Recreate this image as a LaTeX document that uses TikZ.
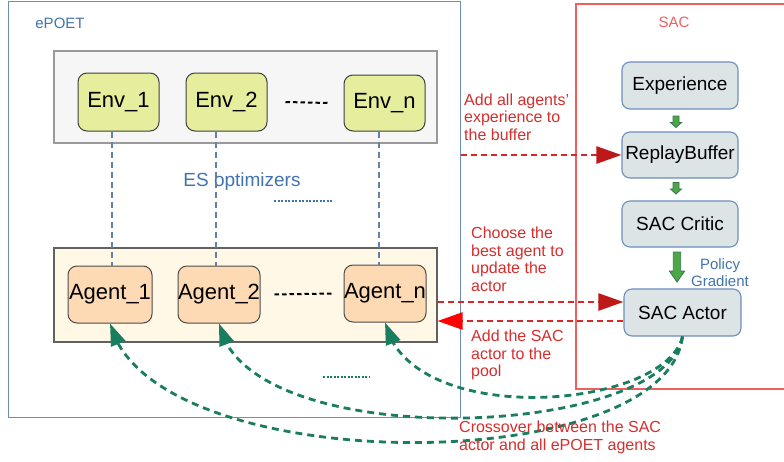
\documentclass[tikz,border=0pt]{standalone}
\usepackage{fontspec}
\setmainfont{Liberation Sans}
\usetikzlibrary{arrows.meta,bending}

\definecolor{epoetblue}{RGB}{108,142,191}
\definecolor{labelblue}{RGB}{65,115,175}
\definecolor{sacred}{RGB}{240,95,95}
\definecolor{textred}{RGB}{214,45,45}
\definecolor{linered}{RGB}{215,40,40}
\definecolor{darkred}{RGB}{190,25,25}
\definecolor{envfill}{RGB}{230,238,158}
\definecolor{agentfill}{RGB}{253,218,180}
\definecolor{poolfill}{RGB}{255,248,230}
\definecolor{envpoolfill}{RGB}{245,246,245}
\definecolor{sacfill}{RGB}{221,228,230}
\definecolor{crossgreen}{RGB}{25,125,95}
\definecolor{flowgreen}{RGB}{76,168,68}
\definecolor{flowedge}{RGB}{55,115,85}

\tikzset{
  frame/.style={draw=epoetblue, line width=1pt, inner sep=0pt},
  pool/.style={draw=#1, line width=1.2pt, inner sep=0pt},
  envbox/.style={draw=black!75, fill=envfill, rounded corners=9pt, line width=1pt,
    minimum height=58pt, inner sep=0pt, font=\fontsize{22}{24}\selectfont},
  agentbox/.style={draw=black!70, fill=agentfill, rounded corners=9pt, line width=1pt,
    minimum height=57pt, inner sep=0pt, font=\fontsize{22}{24}\selectfont},
  sacbox/.style={draw=epoetblue, fill=sacfill, rounded corners=8pt, line width=1.1pt,
    minimum width=116pt, minimum height=46pt, inner sep=0pt, font=\fontsize{19}{22}\selectfont},
  optline/.style={draw=epoetblue!90!black, line width=1.4pt, dash pattern=on 6pt off 4pt},
  gap/.style={draw=black, line width=2pt, dash pattern=on 4.5pt off 3pt},
  redtext/.style={font=\fontsize{16}{17.5}\selectfont, text=textred, align=left, inner sep=0pt, anchor=north west},
  bluetext/.style={text=labelblue, inner sep=0pt},
  redflow/.style={draw=linered, line width=2.5pt, dash pattern=on 6pt off 4pt,
    -{Triangle[length=25pt,width=17pt,color=#1]}},
  crossflow/.style={draw=crossgreen, line width=2.8pt, dash pattern=on 7pt off 5pt,
    -{Triangle[length=22pt,width=15pt]}},
  blockarrow/.style={fill=flowgreen, draw=flowedge, line width=0.8pt, line join=miter},
}

\begin{document}
\begin{tikzpicture}[x=1pt,y=-1pt]
\useasboundingbox (0,0) rectangle (784,461);

% outer frames
\node[frame, minimum width=452pt, minimum height=416pt] (epoet) at (234,209) {};
\draw[draw=sacred, line width=1.3pt] (790,4) -- (576,4) -- (576,389) -- (790,389);

% environment and agent pools
\node[pool=black!40, fill=envpoolfill, minimum width=383pt, minimum height=92pt] (envpool) at (245.5,97) {};
\node[pool=black!62, fill=poolfill, minimum width=383pt, minimum height=94pt] (agentpool) at (245.5,295) {};

% labels
\node[bluetext, font=\fontsize{15}{18}\selectfont] (epoetlabel) at (60,23) {ePOET};
\node[bluetext, font=\fontsize{19}{22}\selectfont] (eslabel) at (242,182) {ES optimizers};
\node[text=sacred, inner sep=0pt, font=\fontsize{15}{18}\selectfont] (saclabel) at (674,22) {SAC};

% environments
\node[envbox, minimum width=81pt] (env1) at (118.5,102) {Env\_1};
\node[envbox, minimum width=81pt] (env2) at (226.5,102) {Env\_2};
\node[envbox, minimum width=81pt, minimum height=56pt] (envn) at (384.5,103) {Env\_n};

% agents
\node[agentbox, minimum width=84pt] (agent1) at (110,294.5) {Agent\_1};
\node[agentbox, minimum width=82pt] (agent2) at (219,294.5) {Agent\_2};
\node[agentbox, minimum width=82pt] (agentn) at (385,293.5) {Agent\_n};

% ES optimizer links between environments and agents
\draw[optline] ([xshift=-6.5pt]env1.south) -- ([xshift=-6.5pt]env1.south |- agent1.north);
\draw[optline] ([xshift=-10.5pt]env2.south) -- ([xshift=-10.5pt]env2.south |- agent2.north);
\draw[optline] ([xshift=-5.5pt]envn.south) -- ([xshift=-5.5pt]envn.south |- agentn.north);

% ellipses between members
\draw[gap] ([xshift=18pt]env2.east) -- ([xshift=-15pt]envn.west);
\draw[gap] ([xshift=14pt]agent2.east) -- ([xshift=-11pt]agentn.west);
\draw[draw=labelblue, line width=1.3pt, dash pattern=on 2pt off 1.5pt] (274,201) -- (332,201);
\draw[draw=crossgreen, line width=1.3pt, dash pattern=on 2pt off 1.5pt] (323,377) -- (370,377);

% SAC pipeline
\node[sacbox, minimum height=47pt] (exp) at (680,85.5) {Experience};
\node[sacbox] (rb) at (680,155) {ReplayBuffer};
\node[sacbox] (critic) at (680,224) {SAC Critic};
\node[sacbox, minimum width=117pt, minimum height=47pt] (actor) at (682.5,312.5) {SAC Actor};

% block arrows of the SAC pipeline
\filldraw[blockarrow] (673,116) -- (679,116) -- (679,122.5) -- (681.5,122.5) -- (676,127.5)
  -- (670.5,122.5) -- (673,122.5) -- cycle;
\filldraw[blockarrow] (673,182.5) -- (679,182.5) -- (679,189) -- (681.5,189) -- (676,194)
  -- (670.5,189) -- (673,189) -- cycle;
\filldraw[blockarrow] (673.3,252) -- (680.7,252) -- (680.7,271) -- (684.7,271) -- (677,282)
  -- (669.3,271) -- (673.3,271) -- cycle;
\node[bluetext, align=center, font=\fontsize{15}{17}\selectfont] (pglabel) at (720,272.5) {Policy\\Gradient};

% exchanges between ePOET and SAC
\draw[redflow=darkred] (epoet.east |- rb.west) -- (rb.west);
\draw[redflow=darkred] ([yshift=10.5pt]agentpool.east |- actor.west) -- ([yshift=10.5pt]actor.west);
\draw[redflow=red] ([yshift=-8.5pt]actor.west) -- ([yshift=-8.5pt]agentpool.east |- actor.west);

% crossover of the SAC actor with every agent
\draw[crossflow] (actor.south) .. controls (665,410) and (410,430) .. (agentn.south);
\draw[crossflow] (actor.south) .. controls (665,440) and (245,455) .. (agent2.south);
\draw[crossflow] (actor.south) .. controls (665,480) and (150,480) .. (agent1.south);

% annotations
\node[redtext] (t1) at (464,93.5) {Add all agents'\\experience to\\the buffer};
\node[redtext] (t2) at (471,227) {Choose the\\best agent to\\update the\\actor};
\node[redtext] (t3) at (471,330) {Add the SAC\\actor to the\\pool};
\node[redtext] (t4) at (459,421) {Crossover between the SAC\\actor and all ePOET agents};
\end{tikzpicture}
\end{document}
